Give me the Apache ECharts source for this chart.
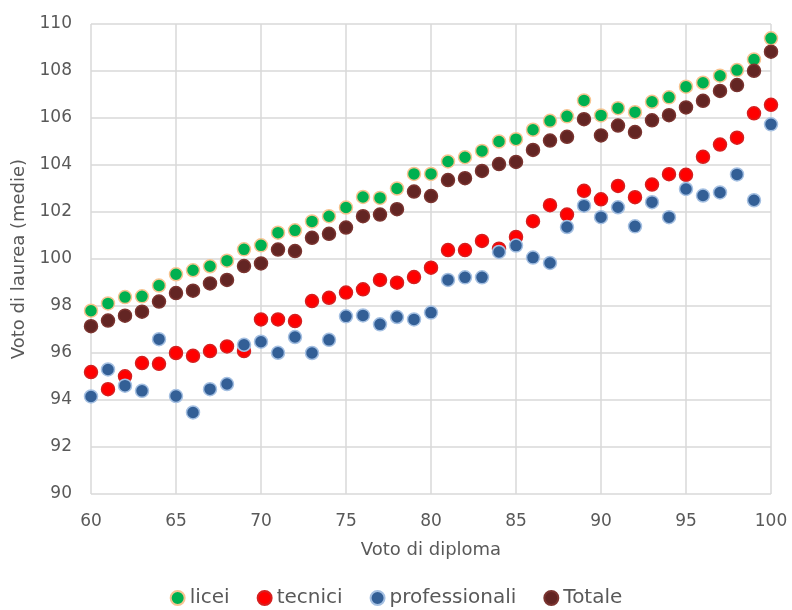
<!DOCTYPE html>
<html>
<head>
<meta charset="utf-8">
<script src="https://cdn.jsdelivr.net/npm/echarts@6/dist/echarts.min.js"></script>
<style>
  html, body { margin: 0; padding: 0; background: #fff; }
  #chart { width: 792px; height: 610px; }
</style>
</head>
<body>
<div id="chart"></div>
<script>
// voto di diploma (asse x)
const votoDiploma = [60, 61, 62, 63, 64, 65, 66, 67, 68, 69, 70, 71, 72, 73, 74, 75, 76, 77, 78, 79, 80,
  81, 82, 83, 84, 85, 86, 87, 88, 89, 90, 91, 92, 93, 94, 95, 96, 97, 98, 99, 100]

const licei = [97.80, 98.11, 98.38, 98.41, 98.87, 99.35, 99.52, 99.69, 99.93, 100.41, 100.58, 101.12, 101.22,
  101.60, 101.82, 102.19, 102.64, 102.60, 103.00, 103.62, 103.62, 104.15, 104.33, 104.60, 105.00, 105.10,
  105.50, 105.88, 106.07, 106.75, 106.11, 106.42, 106.25, 106.69, 106.88, 107.33, 107.50, 107.80, 108.04,
  108.49, 109.39]

const tecnici = [95.19, 94.46, 95.01, 95.57, 95.54, 96.00, 95.88, 96.08, 96.28, 96.08, 97.43, 97.43, 97.36,
  98.21, 98.35, 98.57, 98.71, 99.11, 98.99, 99.23, 99.63, 100.38, 100.38, 100.77, 100.44, 100.94, 101.61,
  102.29, 101.89, 102.90, 102.54, 103.11, 102.63, 103.17, 103.61, 103.58, 104.35, 104.87, 105.16, 106.20,
  106.56]

const professionali = [94.15, 95.30, 94.61, 94.39, 96.59, 94.17, 93.47, 94.46, 94.68, 96.35, 96.48, 96.01,
  96.68, 96.00, 96.56, 97.56, 97.60, 97.22, 97.53, 97.43, 97.72, 99.11, 99.22, 99.22, 100.30, 100.57,
  100.06, 99.83, 101.36, 102.27, 101.78, 102.20, 101.39, 102.42, 101.78, 102.98, 102.70, 102.83, 103.60,
  102.50, 105.73]

const totale = [97.14, 97.38, 97.59, 97.76, 98.19, 98.55, 98.65, 98.96, 99.11, 99.70, 99.81, 100.40, 100.34,
  100.90, 101.07, 101.34, 101.82, 101.89, 102.12, 102.87, 102.68, 103.36, 103.44, 103.75, 104.04, 104.13,
  104.64, 105.04, 105.20, 105.95, 105.26, 105.68, 105.40, 105.90, 106.12, 106.45, 106.73, 107.15, 107.40,
  108.01, 108.82]

const seriesNames = ['licei', 'tecnici', 'professionali', 'Totale']

const FONT = 'DejaVu Sans'
const grey = '#595959'

const pairs = values => votoDiploma.map((x, i) => [x, values[i]])

const makeSeries = (name, values, fill, border) => ({
  name,
  type: 'scatter',
  data: pairs(values),
  symbol: 'circle',
  symbolSize: 13,
  itemStyle: {
    color: fill,
    borderColor: border,
    borderWidth: 1.5,
    opacity: 1
  },
  emphasis: { disabled: true }
})

const chart = echarts.init(document.getElementById('chart'))
const option = {
  animation: false,
  textStyle: { fontFamily: FONT },
  grid: {
    left: 91,
    right: 21,
    top: 24,
    bottom: 116
  },
  legend: {
    bottom: -3,
    left: 'center',
    icon: 'circle',
    itemWidth: 14,
    itemHeight: 14,
    itemGap: 27,
    data: seriesNames,
    textStyle: { color: grey, fontSize: 20, fontFamily: FONT }
  },
  xAxis: {
    type: 'value',
    min: 60,
    max: 100,
    interval: 5,
    name: 'Voto di diploma',
    nameLocation: 'middle',
    nameGap: 47,
    nameTextStyle: { color: grey, fontSize: 18, fontFamily: FONT },
    axisLine: { show: false },
    axisTick: { show: false },
    axisLabel: { color: grey, fontSize: 17, margin: 19, fontFamily: FONT },
    splitLine: { show: true, lineStyle: { color: '#d9d9d9', width: 1.5 } }
  },
  yAxis: {
    type: 'value',
    min: 90,
    max: 110,
    interval: 2,
    name: 'Voto di laurea (medie)',
    nameLocation: 'middle',
    nameGap: 60,
    nameTextStyle: { color: grey, fontSize: 18, fontFamily: FONT },
    axisLine: { show: false },
    axisTick: { show: false },
    axisLabel: { color: grey, fontSize: 17, margin: 19, fontFamily: FONT },
    splitLine: { show: true, lineStyle: { color: '#d9d9d9', width: 1.5 } }
  },
  series: [
    makeSeries('licei', licei, '#00b050', '#f7c491'),
    makeSeries('tecnici', tecnici, '#ff0000', '#d62020'),
    makeSeries('professionali', professionali, '#335f96', '#a5c0e2'),
    makeSeries('Totale', totale, '#632523', '#7a3430')
  ]
}
chart.setOption(option)
</script>
</body>
</html>
